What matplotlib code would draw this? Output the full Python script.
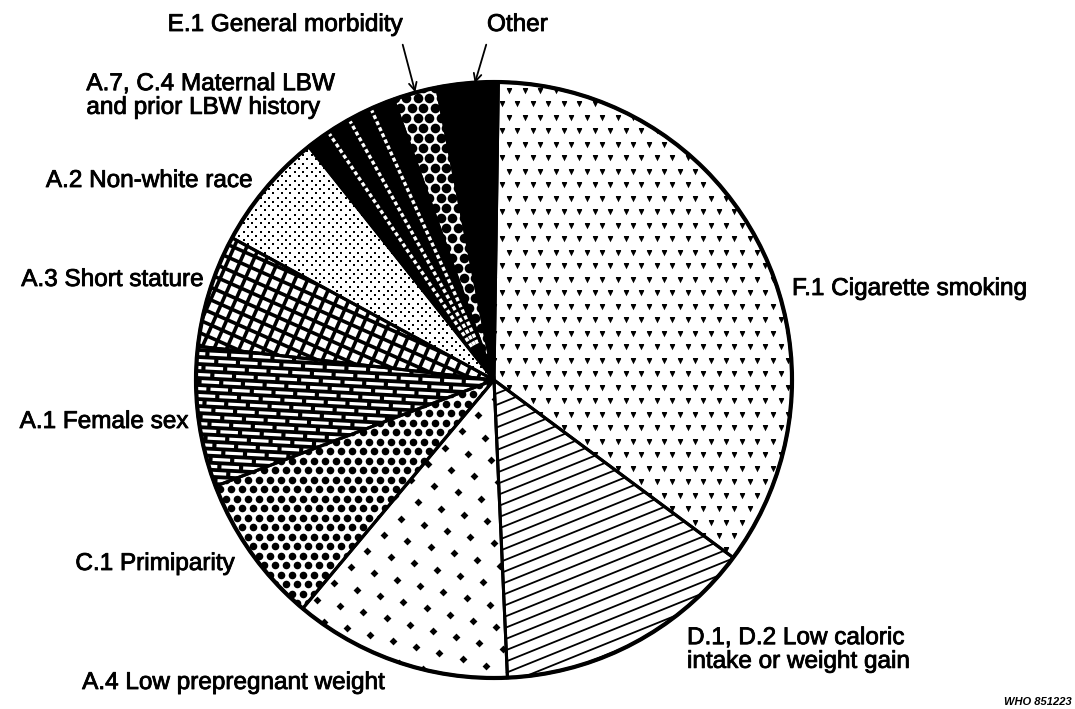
import numpy as np
import matplotlib.pyplot as plt
import matplotlib.patheffects as pe
from matplotlib.patches import Wedge, Circle
from matplotlib.collections import LineCollection

# share of low-birth-weight risk attributed to each factor (%)
labels = ["F.1 Cigarette smoking", "Other", "E.1 General morbidity",
          "A.7, C.4 Maternal LBW\nand prior LBW history", "A.2 Non-white race",
          "A.3 Short stature", "A.1 Female sex", "C.1 Primiparity",
          "A.4 Low prepregnant weight", "D.1, D.2 Low caloric\nintake or weight gain"]
shares = [34.9, 3.3, 2.4, 5.2, 6.4, 6.1, 7.6, 8.1, 11.8, 14.1]

W, H = 1075, 709
cx, cy, R = 494, H - 380, 298

fig = plt.figure(figsize=(W / 100, H / 100), dpi=100)
ax = fig.add_axes([0, 0, 1, 1])

wedges, _ = ax.pie(shares, startangle=-36.6, counterclock=True, center=(cx, cy),
                   radius=R, wedgeprops=dict(facecolor='white', edgecolor='none'))
ax.set_xlim(0, W)
ax.set_ylim(0, H)
ax.set_aspect('auto')
ax.axis('off')


def grid(dx, dy, angle=0, stagger=True):
    # regular point grid covering the pie, optionally rotated
    xs = np.arange(-R - 20, R + 20, dx)
    ys = np.arange(-R - 20, R + 20, dy)
    pts = []
    for i, y in enumerate(ys):
        off = dx / 2 if (stagger and i % 2) else 0
        for x in xs:
            pts.append((x + off, y))
    pts = np.array(pts)
    a = np.deg2rad(angle)
    rot = np.array([[np.cos(a), -np.sin(a)], [np.sin(a), np.cos(a)]])
    pts = pts @ rot.T
    return pts[:, 0] + cx, pts[:, 1] + cy


def dots(w, dx, dy, s, marker='o', angle=0, stagger=True):
    x, y = grid(dx, dy, angle, stagger)
    sc = ax.scatter(x, y, s=s, marker=marker, color='black', linewidths=0, zorder=2)
    sc.set_clip_path(w)


def hatch_segments(spacing, angle):
    a = np.deg2rad(angle)
    d = np.array([np.cos(a), np.sin(a)])
    n = np.array([-np.sin(a), np.cos(a)])
    segs = []
    for k in np.arange(-R - 20, R + 20, spacing):
        p = np.array([cx, cy]) + n * k
        segs.append([p - d * (R + 30), p + d * (R + 30)])
    return segs


def lines(w, spacing, angle, lw, color='black'):
    lc = LineCollection(hatch_segments(spacing, angle), colors=color,
                        linewidths=lw, zorder=2)
    ax.add_collection(lc)
    lc.set_clip_path(w)


w = dict(zip([l.split()[0] for l in labels], wedges))

# F.1 small triangles
dots(w['F.1'], 15.5, 13.5, 16, marker='v')
# Other solid black
w['Other'].set_facecolor('black')
# E.1 black circles
dots(w['E.1'], 11.5, 10, 48)
# A.7 black with white radial dashed stripes
w['A.7,'].set_facecolor('black')
t1, t2 = w['A.7,'].theta1, w['A.7,'].theta2
for t in np.linspace(t1, t2, 5)[1:-1]:
    a = np.deg2rad(t)
    ln, = ax.plot([cx + 40 * np.cos(a), cx + R * np.cos(a)],
                  [cy + 40 * np.sin(a), cy + R * np.sin(a)],
                  color='white', lw=2.4, dashes=(1.2, 0.8), zorder=2)
    ln.set_clip_path(w['A.7,'])
# A.2 fine dot screen
dots(w['A.2'], 6, 6, 3.5, marker='s', angle=45, stagger=False)
# A.3 grid of white squares
lines(w['A.3'], 11.5, -24, 2.6)
lines(w['A.3'], 11.5, 66, 2.6)
# A.1 black with white dashes, staggered row by row
w['A.1'].set_facecolor('black')
for i, seg in enumerate(hatch_segments(7, -3)):
    seg = np.array(seg)
    ln, = ax.plot(seg[:, 0], seg[:, 1], color='white', lw=2.3, zorder=2,
                  linestyle=((i * 2.9) % 6.8, (5.5, 1.3)))
    ln.set_clip_path(w['A.1'])
# C.1 dense black dots
dots(w['C.1'], 11, 9.5, 30)
# A.4 sparse small stars
dots(w['A.4'], 24, 20, 16, marker='D', angle=-15)
# D slanted lines
lines(w['D.1,'], 10.5, 22, 1.3)

# borders
for wd in wedges:
    ax.add_patch(Wedge((cx, cy), R, wd.theta1, wd.theta2, fill=False,
                       edgecolor='black', lw=2.2, zorder=3))
ax.add_patch(Circle((cx, cy), R, fill=False, edgecolor='black', lw=3, zorder=4))

# labels (pixel positions, y from top)
fx = [pe.withStroke(linewidth=0.6, foreground='black')]
txt = dict(fontsize=17.5, family='Liberation Sans', color='black', path_effects=fx,
           va='center', linespacing=1.1)
label_pos = {
    'F.1': (792, 289, 'left'),
    'Other': (487, 25, 'left'),
    'E.1': (402, 25, 'right'),
    'A.7,': (334, 96, 'right'),
    'A.2': (252, 181, 'right'),
    'A.3': (203, 280, 'right'),
    'A.1': (188, 422, 'right'),
    'C.1': (234, 564, 'right'),
    'A.4': (384, 683, 'right'),
    'D.1,': (687, 650, 'left'),
}
for lab in labels:
    x, y, ha = label_pos[lab.split()[0]]
    ax.text(x, H - y, lab, ha=ha, multialignment='left', **txt)

# pointer arrows for the two thin slices
arr = dict(arrowstyle='->', lw=1.3, color='black', mutation_scale=14)
ax.annotate('', xy=(416, H - 95), xytext=(402, H - 42), arrowprops=arr)
ax.annotate('', xy=(474, H - 86), xytext=(487, H - 42), arrowprops=arr)

ax.text(1072, H - 702, 'WHO 851223', ha='right', va='center', fontsize=8,
        style='italic', weight='bold', family='Liberation Sans')

fig.savefig('out.png', dpi=100)
